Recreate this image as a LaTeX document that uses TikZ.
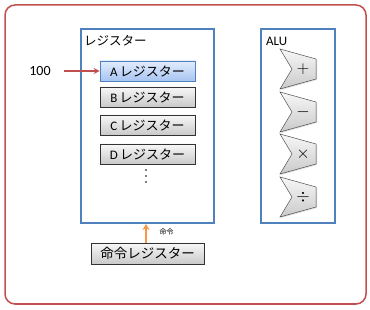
\documentclass[tikz,border=0pt]{standalone}
\usepackage{fontspec}
\setmainfont{Carlito}
\newfontfamily\jp{Noto Sans CJK JP}
\usetikzlibrary{arrows.meta,shadows}
\definecolor{framered}{HTML}{C0504D}
\definecolor{boxblue}{HTML}{4F81BD}
\definecolor{arrorange}{HTML}{F79646}
\definecolor{atop}{HTML}{E3EDFC}
\definecolor{abot}{HTML}{A7C4F2}
\tikzset{
  x=1pt,y=-1pt,
  reg/.style={draw=black!80,line width=0.6pt,top color=gray!6,bottom color=gray!42,
    minimum width=95pt,minimum height=20pt,inner sep=0pt,font=\fontsize{13}{13}\selectfont,
    drop shadow={shadow xshift=1pt,shadow yshift=-1pt,opacity=0.3}},
  areg/.style={reg,draw=boxblue,top color=atop,bottom color=abot},
  panel/.style={draw=boxblue,line width=1.2pt},
  alu/.style={draw=black!70,line width=0.5pt,top color=gray!6,bottom color=gray!42},
  lbl/.style={font=\fontsize{12.5}{12.5}\selectfont,inner sep=0pt,anchor=west},
  sym/.style={font=\fontsize{17}{17}\selectfont,text=black,inner sep=0pt}
}
\begin{document}
\begin{tikzpicture}
\useasboundingbox (0,0) rectangle (370,310);
\draw[framered,line width=1.5pt,rounded corners=10pt] (5,5) rectangle (366,304);
% register panel
\draw[panel] (81,29) rectangle (214,223);
\node[lbl] (reglbl) at (84,41) {\jp レジスター};
\node[areg] (A) at (147.5,71) {A\,\jp レジスター};
\node[reg] (B) at (147.5,97) {B\,\jp レジスター};
\node[reg] (C) at (147.5,125) {C\,\jp レジスター};
\node[reg] (D) at (147.5,154) {D\,\jp レジスター};
\foreach \yy in {170,176,182} \fill (146,\yy) circle (0.9pt);
\node[font=\fontsize{14}{14}\selectfont] (in) at (40,71) {100};
\draw[framered,line width=1.3pt,-{Stealth[length=6pt,width=6pt]}] (in.east)++(10,0) -- (A.west);
% command register
\node[reg,minimum width=113pt,minimum height=21pt,font=\fontsize{13.5}{13.5}\selectfont] (cmd) at (147.5,253.5) {\jp 命令レジスター};
\coordinate (panelbot) at (146,224);
\draw[arrorange,line width=2pt,-{Stealth[length=6pt,width=7pt]}] (cmd.north -| panelbot) -- (panelbot);
\node[font=\fontsize{7}{7}\selectfont,anchor=west] (cmdlbl) at (156,232) {\jp 命令};
% ALU
\draw[panel] (261,29) rectangle (335,223);
\node[lbl,font=\fontsize{13}{13}\selectfont] (alulbl) at (266,41) {ALU};
\foreach \t/\s in {49/+,92/-,134/\times,177/\div}{
  \draw[alu,drop shadow={shadow xshift=1pt,shadow yshift=-1pt,opacity=0.25}] (280,\t) -- (316,\t+10) -- (316,\t+30) -- (280,\t+40) -- (292,\t+20) -- cycle;
  \node[sym] at (303,\t+20) {$\s$};
}
\end{tikzpicture}
\end{document}
